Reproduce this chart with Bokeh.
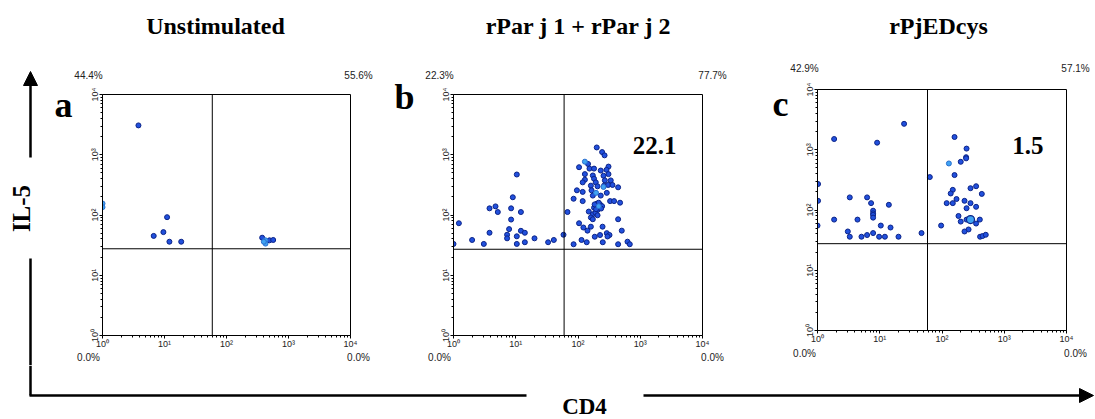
import math
from bokeh.plotting import figure
from bokeh.models import (Range1d, FixedTicker, CustomJSTickFormatter, Span, Label,
                          Arrow, NormalHead)
from bokeh.layouts import row, column
from bokeh.embed import file_html
from bokeh.resources import INLINE

# ---------------- data ----------------
titles = ["Unstimulated", "rPar j 1 + rPar j 2", "rPjEDcys"]
letters = ["a", "b", "c"]
tick_values = [1, 10, 100, 1000, 10000]
tick_labels = ["10\u2070", "10\u00b9", "10\u00b2", "10\u00b3", "10\u2074"]
x_axis_name = "CD4"
y_axis_name = "IL-5"

# quadrant percentages: top-left, top-right, bottom-left, bottom-right
pct_a = ["44.4%", "55.6%", "0.0%", "0.0%"]
pct_b = ["22.3%", "77.7%", "0.0%", "0.0%"]
pct_c = ["42.9%", "57.1%", "0.0%", "0.0%"]
inset_values = ["", "22.1", "1.5"]

gate_x = [59.0, 59.8, 58.5]
gate_y = [27.5, 27.0, 27.6]

# panel a events
a_dark_x = [3.8, 11.0, 6.7, 9.6, 12.0, 18.6, 376, 494, 566]
a_dark_y = [3070, 92, 45, 52, 36, 36, 42, 38, 38.5]
a_light_x = [1.0, 1.0, 426, 426, 400]
a_light_y = [155, 135, 38, 33.5, 36]

# panel b events
b_dark_x = [10.4, 8.97, 3.79, 4.73, 5.15, 8.42, 12.1, 8.42, 1.22, 7.82, 3.79, 12.1,
            14.0, 7.26, 7.26, 10.4, 1.99, 3.07, 10.4, 14.0, 20.0, 33.1, 40.9, 1.0,
            58.5, 67.8,
            200, 244, 267, 145, 104, 153, 181, 232, 309, 287, 129, 173, 309, 257,
            129, 119, 181, 193, 270, 336, 161, 206, 262, 305, 358, 441, 96, 119,
            165, 290, 173, 232, 85, 119, 328, 380, 474, 200, 226, 181, 244, 206,
            149, 173, 191, 161, 206, 173, 441, 104, 122, 161, 248, 142, 505, 290,
            321, 226, 186, 298, 114, 85, 138, 250, 441, 624, 679,
            215, 195, 235, 185]
b_dark_y = [470, 197, 129, 139, 112, 129, 112, 84, 73, 58.3, 50.7, 54.7,
            50.7, 47, 41, 44.3, 38.5, 33.1, 33.1, 35.3, 41, 35.3, 38.5, 33.1,
            47, 112,
            1321, 1107, 977, 704, 621, 589, 589, 547, 636, 561, 477, 453, 477, 448,
            385, 348, 400, 348, 375, 375, 307, 299, 307, 315, 315, 288, 257, 242,
            257, 233, 210, 210, 186, 170, 170, 170, 160, 154, 150, 132, 140, 121,
            114, 103, 109, 91, 99, 85, 85, 73, 62, 64, 64, 55, 55, 50,
            46.5, 46.5, 43.6, 44, 38.5, 32.7, 35.3, 35.3, 32.7, 36.1, 32.7,
            160, 125, 128, 150]
b_light_x = [129, 195, 257, 215]
b_light_y = [768, 233, 292, 140]

# panel c events
c_dark_x = [24.6, 1.85, 9.07, 1.02, 1.02, 3.30, 6.26, 7.26, 14.0, 7.82, 7.82, 7.82,
            7.82, 1.85, 4.39, 1.0, 10.4, 14.9, 3.07, 3.30, 5.09, 6.26, 7.82, 9.77,
            12.1, 20.0, 46.9,
            159, 248, 244, 244, 200, 159, 63.7, 353, 287, 149, 436, 138, 171, 230,
            119, 149, 287, 353, 248, 184, 248, 405, 200, 353, 96.8, 267, 230, 409,
            448, 505]
c_dark_y = [2692, 1507, 1310, 270, 142, 162, 162, 130, 122, 97.3, 88, 82.8,
            74.7, 69.3, 69.3, 55.2, 55.2, 51.2, 44, 36, 36, 38.4, 41.4, 36,
            36, 36, 41.4,
            1626, 1045, 752, 720, 631, 380, 352, 248, 230, 216, 185, 188, 152, 142,
            130, 130, 130, 113, 107, 79.6, 69.3, 69.3, 64.2, 59.6, 55.2, 47.5, 44, 36,
            37, 38.8]
c_light_x = [129]
c_light_y = [592]
c_big_x = [287]
c_big_y = [69.3]

# ---------------- style / layout (page pixels) ----------------
DARK_FILL, DARK_LINE = "#2150dd", "#0c2488"
LIGHT_FILL, LIGHT_LINE = "#3fa3f2", "#2a6fd0"
SERIF = "Liberation Serif"
SANS = "Liberation Sans"
W, H = 1095, 419
LEFT_W = 40            # strip with the IL-5 arrow
ROW_H = 365            # bottom of everything except the CD4 strip
BT, BB = 14, 13        # top / bottom border of each plot
FRAMES = [(102, 350, 94, 338), (453, 702, 94, 338), (817, 1066, 89, 333)]
LETTER_SPAN = [(40, 73), (380, 420), (745, 789)]
PANEL_RIGHT = [380, 745, 1095]
LETTER_POS = [(54, 104), (394, 96), (772, 103)]       # left edge, vertical centre
TITLE_POS = [(215, 25), (578, 25), (938, 25)]          # centre
PCT_X = [(88, 358), (439, 712), (804, 1075)]
PCT_Y = [(75, 357), (75, 357), (68, 353)]
INSET_POS = [None, (676, 144.5), (1043, 144.5)]        # right edge, vertical centre
AX_X = 30


def strip(w, h):
    s = figure(width=w, height=h, x_range=Range1d(0, w), y_range=Range1d(h, 0),
               x_axis_location=None, y_axis_location=None, min_border=0, title=None,
               toolbar_location=None, output_backend="svg")
    s.outline_line_color = None
    s.grid.visible = False
    return s


def text(fig, x, y, s, size, font=SERIF, bold=True, align="center", color="black", angle=0):
    fig.add_layout(Label(x=x, y=y, text=s, angle=angle, text_align=align,
                         text_baseline="middle", text_font=font,
                         text_font_style="bold" if bold else "normal",
                         text_font_size=size, text_color=color))


minor = [m * 10 ** k for k in range(4) for m in range(2, 10)]
fmt = CustomJSTickFormatter(args=dict(labels=tick_labels),
                            code="return labels[Math.round(Math.log10(tick))];")

all_x = [(a_dark_x, a_light_x), (b_dark_x, b_light_x), (c_dark_x, c_light_x)]
all_y = [(a_dark_y, a_light_y), (b_dark_y, b_light_y), (c_dark_y, c_light_y)]
pcts = [pct_a, pct_b, pct_c]

panels = []
for i in range(3):
    fl, fr, ft, fb = FRAMES[i]
    lx0, lx1 = LETTER_SPAN[i]
    cx0, cx1 = lx1, PANEL_RIGHT[i]
    y0 = ft - BT                 # top of the plot of this panel
    y1 = fb + BB                 # bottom of the plot of this panel

    letter_fig = strip(lx1 - lx0, ROW_H)
    text(letter_fig, LETTER_POS[i][0] - lx0, LETTER_POS[i][1], letters[i], "36px",
         align="left")

    top = strip(cx1 - cx0, y0)
    text(top, TITLE_POS[i][0] - cx0, TITLE_POS[i][1], titles[i], "24px")
    bot = strip(cx1 - cx0, ROW_H - y1)
    for k in range(2):
        text(top, PCT_X[i][k] - cx0, PCT_Y[i][0], pcts[i][k], "10px", font=SANS,
             bold=False, color="#222222")
        text(bot, PCT_X[i][k] - cx0, PCT_Y[i][1] - y1, pcts[i][2 + k], "10px", font=SANS,
             bold=False, color="#222222")

    p = figure(width=cx1 - cx0, height=y1 - y0, x_axis_type="log", y_axis_type="log",
               x_range=Range1d(1, 1e4), y_range=Range1d(1, 1e4), title=None,
               min_border_left=fl - cx0, min_border_right=cx1 - fr,
               min_border_top=BT, min_border_bottom=BB,
               toolbar_location=None, output_backend="svg")
    p.grid.visible = False
    p.outline_line_color = "black"
    p.outline_line_width = 1
    for ax in (p.xaxis[0], p.yaxis[0]):
        ax.ticker = FixedTicker(ticks=tick_values, minor_ticks=minor)
        ax.formatter = fmt
        ax.major_label_text_font = SANS
        ax.major_label_text_font_size = "9px"
        ax.major_label_text_color = "#222222"
        ax.axis_line_color = "black"
        ax.major_tick_line_color = "black"
        ax.minor_tick_line_color = "black"
        ax.major_tick_in = 0
        ax.major_tick_out = 3
        ax.minor_tick_in = 0
        ax.minor_tick_out = 2
        ax.major_label_standoff = 0
    p.yaxis[0].major_label_orientation = "vertical"
    p.add_layout(Span(location=gate_x[i], dimension="height", line_color="black", line_width=1))
    p.add_layout(Span(location=gate_y[i], dimension="width", line_color="black", line_width=1))
    dx, lxs = all_x[i]
    dy, lys = all_y[i]
    p.scatter(dx, dy, size=5, marker="circle", fill_color=DARK_FILL, line_color=DARK_LINE,
              line_width=1)
    p.scatter(lxs, lys, size=5, marker="circle", fill_color=LIGHT_FILL,
              line_color=LIGHT_LINE, line_width=1)
    if i == 2:
        p.scatter(c_big_x, c_big_y, size=8, marker="circle", fill_color=LIGHT_FILL,
                  line_color=DARK_LINE, line_width=1.2)
    if inset_values[i]:
        ix, iy = INSET_POS[i]
        p.add_layout(Label(x=1e4, y=1e4, x_offset=ix - fr, y_offset=ft - iy,
                           text=inset_values[i], text_align="right",
                           text_baseline="middle", text_font=SERIF,
                           text_font_style="bold", text_font_size="25px",
                           text_color="black"))
    # the plot is wrapped in its own row so that the frames of the text strips
    # above and below it are not aligned with the plot's frame
    panels.append(row(letter_fig, column(top, row(p, spacing=0), bot, spacing=0),
                      spacing=0))

# left strip with the IL-5 arrow
left = strip(LEFT_W, ROW_H)
left.add_layout(Arrow(end=NormalHead(size=14, fill_color="black", line_color="black"),
                      x_start=AX_X, y_start=157, x_end=AX_X, y_end=71,
                      line_color="black", line_width=2.5))
left.line([AX_X, AX_X], [258, ROW_H], line_color="black", line_width=2.5)
text(left, 20.5, 208, y_axis_name, "25px", angle=math.pi / 2)

# bottom strip with the CD4 arrow
bottom = strip(W, H - ROW_H)
bottom.line([AX_X, AX_X], [0, 395 - ROW_H], line_color="black", line_width=2.5)
bottom.line([AX_X - 1, 526], [395 - ROW_H, 395 - ROW_H], line_color="black", line_width=2.5)
bottom.add_layout(Arrow(end=NormalHead(size=14, fill_color="black", line_color="black"),
                        x_start=643, y_start=395 - ROW_H, x_end=1093, y_end=395 - ROW_H,
                        line_color="black", line_width=2.5))
text(bottom, 584, 406 - ROW_H, x_axis_name, "23px")

layout = column(row(left, *panels, spacing=0), bottom, spacing=0)
open("out.html", "w").write(file_html(layout, INLINE))
